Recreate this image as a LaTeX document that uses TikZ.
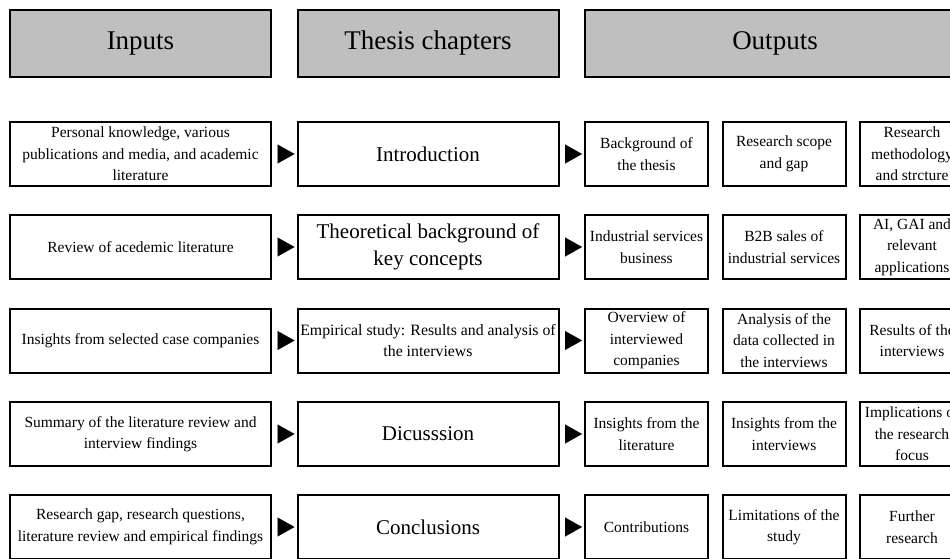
\documentclass[tikz,border=0pt]{standalone}
\usepackage{fontspec}
\setmainfont{Liberation Serif}
\usetikzlibrary{arrows.meta}
\definecolor{hdrgray}{RGB}{191,191,191}
\tikzset{
  boxbase/.style={draw=black, line width=2pt, inner sep=0pt, align=center},
  hdr/.style={boxbase, fill=hdrgray, minimum height=67pt, font=\fontsize{27}{32}\selectfont},
  inbox/.style={boxbase, minimum width=261pt, minimum height=64pt, font=\fontsize{15.5}{21.5}\selectfont},
  chbox/.style={boxbase, minimum width=261pt, minimum height=64pt, font=\fontsize{21}{26.5}\selectfont},
  chsmall/.style={chbox, font=\fontsize{15.8}{21.5}\selectfont},
  outbox/.style={boxbase, minimum width=123pt, minimum height=64pt, font=\fontsize{15.5}{21.5}\selectfont},
  lastbox/.style={outbox, minimum width=104pt},
  flow/.style={line width=0.1pt, -{Triangle[length=17pt,width=19pt]}, shorten <=6pt, shorten >=2pt}
}
\begin{document}
\begin{tikzpicture}[x=1pt,y=-1pt]
\clip (0,0) rectangle (950,559);
\fill[white] (0,0) rectangle (950,559);
% headers
\node[hdr, minimum width=261pt] (hin) at (140.5,43.5) {Inputs};
\node[hdr, minimum width=261pt] (hch) at (428,43.5) {Thesis chapters};
\node[hdr, minimum width=380pt] (hout) at (775,43.5) {Outputs};
% row 1
\node[inbox] (in1) at (140.5,154) {Personal knowledge, various\\publications and media, and academic\\literature};
\node[chbox] (ch1) at (428,154) {Introduction};
\node[outbox] (o11) at (646.5,154) {Background of\\the thesis};
\node[outbox] (o12) at (784,154) {Research scope\\and gap};
\node[lastbox] (o13) at (912,154) {Research\\methodology\\and strcture};
% row 2
\node[inbox] (in2) at (140.5,247) {Review of acedemic literature};
\node[chbox] (ch2) at (428,247) {Theoretical background of\\key concepts};
\node[outbox] (o21) at (646.5,247) {Industrial services\\business};
\node[outbox] (o22) at (784,247) {B2B sales of\\industrial services};
\node[lastbox] (o23) at (912,247) {AI, GAI and\\relevant\\applications};
% row 3
\node[inbox] (in3) at (140.5,340.5) {Insights from selected case companies};
\node[chsmall] (ch3) at (428,340.5) {Empirical study: Results and analysis of\\the interviews};
\node[outbox] (o31) at (646.5,340.5) {Overview of\\interviewed\\companies};
\node[outbox] (o32) at (784,340.5) {Analysis of the\\data collected in\\the interviews};
\node[lastbox] (o33) at (912,340.5) {Results of the\\interviews};
% row 4
\node[inbox] (in4) at (140.5,434) {Summary of the literature review and\\interview findings};
\node[chbox] (ch4) at (428,434) {Dicusssion};
\node[outbox] (o41) at (646.5,434) {Insights from the\\literature};
\node[outbox] (o42) at (784,434) {Insights from the\\interviews};
\node[lastbox] (o43) at (912,434) {Implications of\\the research\\focus};
% row 5
\node[inbox] (in5) at (140.5,527) {Research gap, research questions,\\literature review and empirical findings};
\node[chbox] (ch5) at (428,527) {Conclusions};
\node[outbox] (o51) at (646.5,527) {Contributions};
\node[outbox] (o52) at (784,527) {Limitations of the\\study};
\node[lastbox] (o53) at (912,527) {Further\\research};
% connectors
\foreach \r in {1,...,5}{
  \draw[flow] (in\r.east) -- (ch\r.west);
  \draw[flow] (ch\r.east) -- (o\r1.west);
}
\end{tikzpicture}
\end{document}
